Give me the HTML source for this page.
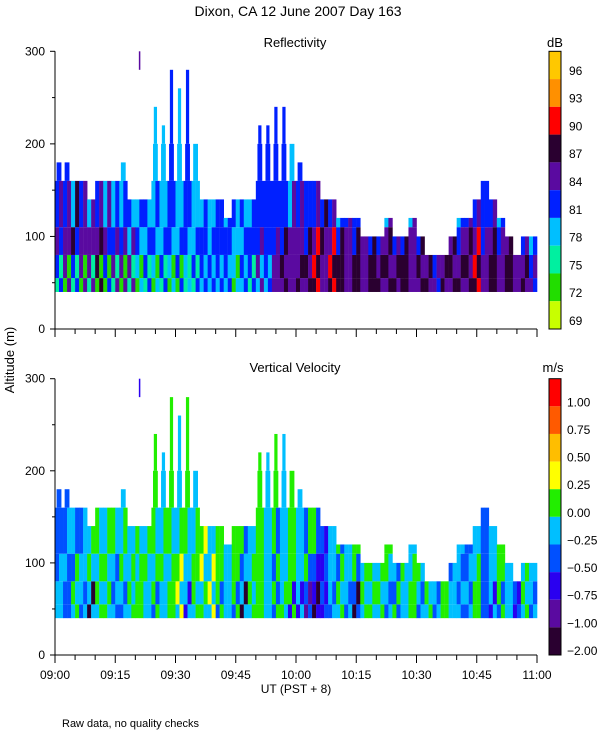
<!DOCTYPE html>
<html><head><meta charset="utf-8"><style>
html,body{margin:0;padding:0;background:#fff;}
svg{display:block;font-family:"Liberation Sans",sans-serif;}
</style></head><body>
<svg id="chart" width="600" height="750" viewBox="0 0 600 750">
<text x="298" y="16" text-anchor="middle" font-size="14">Dixon, CA 12 June 2007  Day 163</text>
<text x="295" y="47" text-anchor="middle" font-size="13">Reflectivity</text>
<text x="295" y="372" text-anchor="middle" font-size="13">Vertical Velocity</text>
<text x="555" y="47" text-anchor="middle" font-size="13">dB</text>
<text x="553" y="372" text-anchor="middle" font-size="13">m/s</text>
<text transform="translate(14,360) rotate(-90)" text-anchor="middle" font-size="13">Altitude (m)</text>
<text x="296" y="693" text-anchor="middle" font-size="12">UT  (PST + 8)</text>
<text x="62" y="727" font-size="11">Raw data, no quality checks</text>
<g id="g"></g>
</svg>
<script>
const tickLabels = ["09:00","09:15","09:30","09:45","10:00","10:15","10:30","10:45","11:00"];
const yTicks = [0,100,200,300];
const dbLabels = ["96","93","90","87","84","81","78","75","72","69"];
const dbColors = ["#ffc800","#ff9000","#ff0000","#2a0030","#5a0aa0","#0020ff","#00bfff","#00f0a0","#22dd00","#c8ff00"];
const velLabels = ["1.00","0.75","0.50","0.25","0.00","\u22120.25","\u22120.50","\u22120.75","\u22121.00","\u22122.00"];
const velColors = ["#ff0000","#ff5a00","#ffbe00","#ffff00","#22ee00","#00bfff","#0050ff","#2a00f0","#5a0aa0","#2a0030"];
const reflColorsByIdx = ["#c8ff00","#22dd00","#00f0a0","#00bfff","#0020ff","#5a0aa0","#2a0030","#ff0000","#ff9000","#ffc800"];
const tops = [180,180,160,160,140,160,160,160,180,140,140,140,240,220,280,260,280,200,140,140,140,120,140,140,140,220,220,240,240,200,180,160,160,140,140,120,120,120,100,100,100,120,100,100,120,100,80,80,80,100,120,120,140,160,140,120,100,80,100,100];
const bandEdges = [40,55,80,110];
const reflB0 = "2121211212121211223333132335556565665656656655656565656565655";
const reflB1 = "4545564555343434344444344545655675765656565656545656756565540";
const reflB2 = "5565555443434343434344334444455456545454454454545545545454430";
const reflB3 = "4434343334343343433343443444434444434433334433443334444343330";
const velB0 = "5656954565456545754565695456477897656954564546564556467657560";
const velB1 = "5645545654454543545345454454545676545645456545454565465456450";
const velB2 = "6565454545545454543545465456545467565454545454545656565454550";
const velB3 = "6656545455454545454545445454545646545454545454545456565454550";

const NS = "http://www.w3.org/2000/svg";
const g = document.getElementById("g");
function mk(tag, attrs){const e=document.createElementNS(NS,tag);for(const k in attrs)e.setAttribute(k,attrs[k]);g.appendChild(e);return e;}
const X0=55, X1=537;
const xMin = t => X0 + (t/120)*(X1-X0);
const panels = [
 {y0:329, y300:51.3, bands:[reflB0,reflB1,reflB2,reflB3], colors:reflColorsByIdx, cb:dbColors, cbl:dbLabels, name:"reflectivity", labels:false, stray:"#5a0aa0"},
 {y0:655, y300:378.7, bands:[velB0,velB1,velB2,velB3], colors:velColors, cb:velColors, cbl:velLabels, name:"velocity", labels:true, stray:"#2a00f0"}
];
panels.forEach((p,pi)=>{
  const yS = h => p.y0 - h*(p.y0-p.y300)/300;
  const colW = (X1-X0)/tops.length;
  function cell(x,w,lo,hi,color){
    const r = mk("rect",{x:x,y:yS(hi),width:w,height:yS(lo)-yS(hi),fill:color});
    
    
  }
  tops.forEach((top,i)=>{
    const x = X0 + i*colW;
    for(let b=0;b<4;b++){
      const lo = bandEdges[b];
      const hi = b<3 ? Math.min(bandEdges[b+1], top) : top;
      if(hi<=lo) continue;
      const ci = parseInt(p.bands[b].charAt(i)) || 0;
      const alt = parseInt(p.bands[b===0?1:b-1].charAt(i)) || ci;
      const segs = [[lo,Math.min(hi,160),1],[160,Math.min(hi,200),0.6],[200,hi,0.4]];
      segs.forEach(([a,z,f])=>{
        if(z<=a) return;
        const w = colW*f;
        const off = (colW-w)/2;
        if(f===1){
          cell(x, colW/2+0.2, a, z, p.colors[ci]);
          cell(x+colW/2, colW/2+0.3, a, z, p.colors[alt]);
        } else {
          cell(x+off, w, a, z, p.colors[ci]);
        }
      });
    }
  });
  const st = mk("rect",{x:xMin(21)-0.5,y:yS(300),width:1.5,height:yS(280)-yS(300),fill:p.stray});
  
  
  const ax = mk("path",{d:`M${X0},${p.y300} L${X0},${p.y0} L${X1},${p.y0}`,stroke:"#000",fill:"none","stroke-width":1});
  
  
  for(let k=0;k<=24;k++){
    const x=xMin(k*5), len = k%3===0?8:5;
    const t=mk("line",{x1:x,y1:p.y0,x2:x,y2:p.y0+len,stroke:"#000"});
    
    
  }
  for(let h=0;h<=300;h+=50){
    const t=mk("line",{x1:X0-(h%100===0?5:3),y1:yS(h),x2:X0,y2:yS(h),stroke:"#000"});
    
    
  }
  yTicks.forEach(h=>{
    const t=mk("text",{x:X0-10,y:yS(h)+4,"text-anchor":"end","font-size":12});
    t.textContent=String(h);
    
    
  });
  if(p.labels){
    tickLabels.forEach((l,k)=>{
      const t=mk("text",{x:xMin(k*15),y:p.y0+24,"text-anchor":"middle","font-size":12});
      t.textContent=l;
      
      
    });
  }
  const segH=(p.y0-p.y300)/p.cb.length;
  p.cb.forEach((c,k)=>{
    const r=mk("rect",{x:549,y:p.y300+k*segH,width:12,height:segH,fill:c});
    
    
  });
  const fr=mk("rect",{x:549,y:p.y300,width:12,height:p.y0-p.y300,fill:"none",stroke:"#000"});
  
  
  p.cbl.forEach((l,k)=>{
    const yy = pi===0 ? p.y300+k*segH+segH*0.85 : p.y300+(k+1)*segH;
    const t=mk("text",{x:pi===0?569:567,y:yy,"font-size":12});
    t.textContent=l;
    
    
  });
});
</script>
</body></html>
